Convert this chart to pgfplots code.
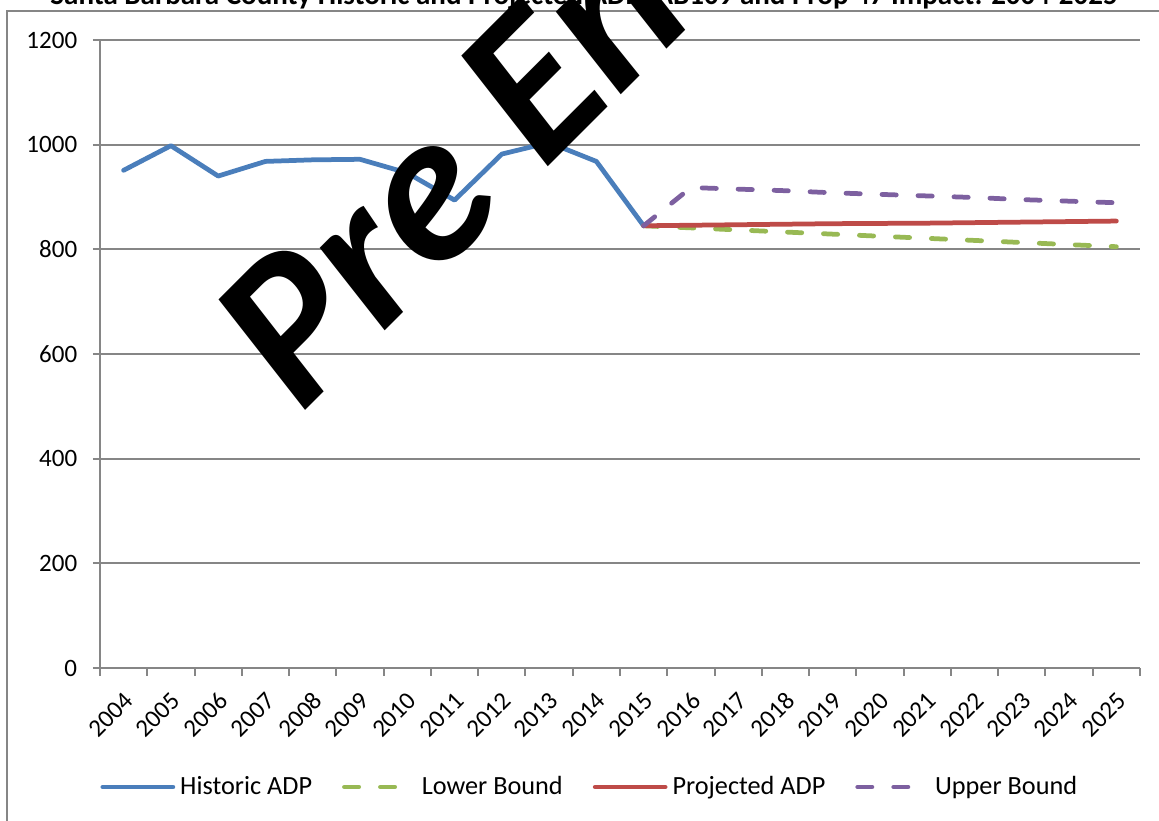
\documentclass[border=0pt]{standalone}
\usepackage{fontspec}
\setmainfont{Carlito}
\usepackage{pgfplots}
\pgfplotsset{compat=1.18}
\definecolor{histblue}{HTML}{4A7EBB}
\definecolor{projred}{HTML}{BE4B48}
\definecolor{lowgreen}{HTML}{98B954}
\definecolor{uppurple}{HTML}{7D60A0}
\definecolor{gridgray}{HTML}{868686}
\begin{document}
\begin{tikzpicture}
\begin{axis}[
  at={(0pt,0pt)}, anchor=south west,
  scale only axis, width=416pt, height=251.2pt,
  xmin=-0.5, xmax=21.5, ymin=0, ymax=1200,
  axis lines*=left,
  axis line style={draw=gridgray, line width=1pt},
  ytick={0,200,...,1200},
  ymajorgrids, grid style={draw=gridgray, line width=0.8pt},
  xtick={0,...,21},
  xticklabels={2004,2005,2006,2007,2008,2009,2010,2011,2012,2013,2014,2015,2016,2017,2018,2019,2020,2021,2022,2023,2024,2025},
  major x tick style={draw=none},
  minor xtick={-0.5,0.5,...,21.5},
  minor x tick style={draw=gridgray, line width=0.8pt},
  major y tick style={draw=gridgray, line width=0.8pt},
  tick align=outside,
  major tick length=2.8pt, minor tick length=3.2pt,
  /pgf/number format/assume math mode=true,
  /pgf/number format/1000 sep={},
  tick label style={font=\fontsize{10}{12}\selectfont, text=black},
  y tick label style={anchor=east, xshift=-2.8pt},
  x tick label style={rotate=45, anchor=north east, inner sep=1pt, xshift=-3.5pt, yshift=-3pt},
  legend columns=4,
  legend style={at={(0,-0.1895)}, anchor=west, draw=none, fill=none, inner sep=0pt,
    font=\fontsize{10.5}{12}\selectfont,
    /tikz/every even column/.append style={column sep=10pt}},
  legend cell align=left,
  legend image code/.code={\draw[#1] (0pt,0pt) -- (28pt,0pt);},
  every axis plot/.append style={line width=1.9pt, line cap=round, line join=round},
]
\addplot[histblue] coordinates {(0,951)(1,998)(2,940)(3,968)(4,971)(5,972)(6,946)(7,894)(8,982)(9,1004)(10,968)(11,845)};
\addlegendentry{Historic ADP}
\addplot[lowgreen, dash pattern=on 5.7pt off 8.7pt] coordinates {(11,845)(12,841)(13,837)(14,833)(15,829)(16,825)(17,821)(18,817)(19,813)(20,809)(21,805)};
\addlegendentry{Lower Bound}
\addplot[projred] coordinates {(11,845)(12,846)(13,847)(14,848)(15,849)(16,849.5)(17,850)(18,851)(19,852)(20,853)(21,854)};
\addlegendentry{Projected ADP}
\addplot[uppurple, dash pattern=on 5.7pt off 8.7pt] coordinates {(11,845)(12,918)(13,915)(14,912)(15,908)(16,905)(17,902)(18,899)(19,895)(20,892)(21,889)};
\addlegendentry{Upper Bound}
\end{axis}
\draw[gridgray, line width=0.6pt] (-37.2pt,-80pt) -- (-37.2pt,262.8pt) -- (440pt,262.8pt);
\node[anchor=base, inner sep=0pt, font=\bfseries\fontsize{11.6}{13}\selectfont] at (193.6pt,265.3pt) {Santa Barbara County Historic and Projected ADP: AB109 and Prop 47 Impact: 2004-2025};
\node[rotate=45, anchor=base west, inner sep=0pt, font=\bfseries\itshape\fontsize{86}{100}\selectfont] at (80pt,101pt) {Pre En};
\pgfresetboundingbox
\useasboundingbox (-40pt,-61.2pt) rectangle (423.6pt,267.2pt);
\end{tikzpicture}
\end{document}
